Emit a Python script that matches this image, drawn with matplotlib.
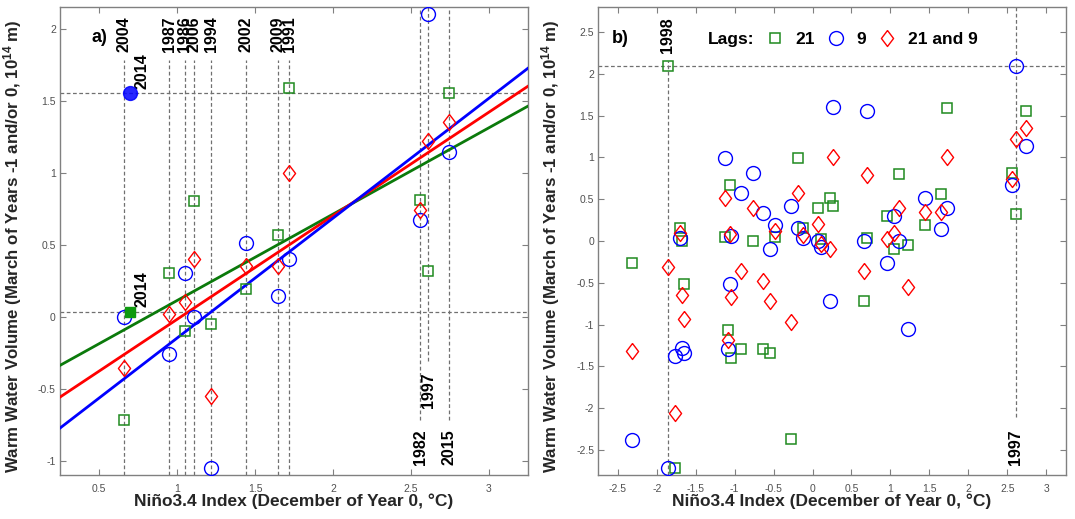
import numpy as np
import matplotlib.pyplot as plt

plt.rcParams['font.family'] = ['Liberation Sans', 'DejaVu Sans']
plt.rcParams['axes.unicode_minus'] = False
plt.rcParams['mathtext.default'] = 'regular'

# El Nino years shown in panel a (2014 is plotted apart and left out of the fits)
years_a = ['2004', '1987', '1986', '2006', '1994', '2002', '2009', '1991', '1982', '1997', '2015']
nino_a = [0.66, 0.95, 1.05, 1.11, 1.22, 1.44, 1.65, 1.72, 2.56, 2.61, 2.745]
wwv21_a = [-0.72, 0.30, -0.10, 0.80, -0.05, 0.19, 0.565, 1.59, 0.81, 0.32, 1.55]
wwv9_a = [0.00, -0.26, 0.30, 0.00, -1.05, 0.51, 0.14, 0.40, 0.67, 2.10, 1.14]
wwv219_a = [-0.36, 0.02, 0.10, 0.40, -0.55, 0.35, 0.35, 1.00, 0.74, 1.22, 1.35]
label_side_a = ['top', 'top', 'top', 'top', 'top', 'top', 'top', 'top', 'bottom', 'mid', 'bottom']

nino_2014 = 0.70
wwv21_2014 = 0.03
wwv9_2014 = 1.55
wwv219_2014 = 0.79

# the remaining years, only in panel b
nino_b = [-2.32, -1.86, -1.76, -1.70, -1.68, -1.65, -1.12, -1.08, -1.05, -1.06, -0.92,
          -0.76, -0.64, -0.55, -0.48, -0.27, -0.19, -0.12, 0.07, 0.11, 0.23, 0.26]
wwv21_b = [-0.26, 2.10, -2.72, 0.15, 0.00, -0.51, 0.05, -1.06, -1.40, 0.67, -1.29,
           0.00, -1.29, -1.34, 0.05, -2.37, 0.99, 0.15, 0.40, 0.02, 0.52, 0.42]
wwv9_b = [-2.38, -2.72, -1.38, 0.04, -1.28, -1.34, 0.99, -1.29, 0.06, -0.51, 0.57,
          0.81, 0.33, -0.09, 0.19, 0.42, 0.15, 0.03, 0.00, -0.07, -0.72, 1.60]
wwv219_b = [-1.32, -0.31, -2.06, 0.10, -0.65, -0.93, 0.52, -1.18, -0.67, 0.08, -0.36,
            0.40, -0.48, -0.72, 0.12, -0.97, 0.57, 0.07, 0.20, -0.04, -0.10, 1.01]

GREEN = '#1f8a1f'
GREEN_LINE = '#0b7a0b'
DIAMOND = [(0, 1), (0.76, 0), (0, -1), (-0.76, 0), (0, 1)]
DASH = dict(color='#707070', linewidth=0.9, linestyle=(0, (3, 2)))
BOLD = dict(fontweight='bold', color='black')

fig = plt.figure(figsize=(10.75, 5.19), dpi=100)
ax1 = fig.add_axes([60 / 1075, 44 / 519, 468 / 1075, 468 / 519])
ax2 = fig.add_axes([598.3 / 1075, 44 / 519, 467.4 / 1075, 468 / 519])


def style_axes(ax, xticks, yticks):
    ax.set_xticks(xticks)
    ax.set_yticks(yticks)
    ax.set_xticklabels(['%g' % t for t in xticks])
    ax.set_yticklabels(['%g' % t for t in yticks])
    ax.tick_params(direction='in', top=True, right=True, length=4, width=0.8,
                   color='#808080', labelcolor='#505050', labelsize=7.5)
    ax.tick_params(axis='x', pad=6.5)
    ax.tick_params(axis='y', pad=3)
    for s in ax.spines.values():
        s.set_color('#808080')
        s.set_linewidth(1.0)
    ax.set_xlabel('Niño3.4 Index (December of Year 0, °C)', fontsize=12.5,
                  fontweight='bold', color='#262626')
    ax.set_ylabel('Warm Water Volume (March of Years -1 and/or 0, 10$^{14}$ m)',
                  fontsize=12.2, fontweight='bold', color='#262626')
    ax.xaxis.set_label_coords(0.5, -0.04)
    ax.yaxis.set_label_coords(-0.077, 0.49)


def scatter3(ax, x, g, b, r):
    ax.plot(x, g, 's', ms=7.5, mfc='none', mec=GREEN, mew=1.1, zorder=4)
    ax.plot(x, b, 'o', ms=10, mfc='none', mec='blue', mew=1.0, zorder=4)
    ax.plot(x, r, marker=DIAMOND, ls='none', ms=11.5, mfc='none', mec='red', mew=1.0, zorder=4)


# ---- panel a ----
ax = ax1
ax.set_xlim(0.25, 3.25)
ax.set_ylim(-1.1, 2.15)
style_axes(ax, [0.5, 1, 1.5, 2, 2.5, 3], [-1, -0.5, 0, 0.5, 1, 1.5, 2])

for x, yr, side in zip(nino_a, years_a, label_side_a):
    if side == 'top':
        ax.vlines(x, -1.1, 1.785, zorder=1, **DASH)
        ax.text(x, 2.085, yr, rotation=90, ha='center', va='top', fontsize=11.5, **BOLD)
    elif side == 'mid':
        ax.vlines(x, -0.31, 2.15, zorder=1, **DASH)
        ax.text(x, -0.385, yr, rotation=90, ha='center', va='top', fontsize=11.5, **BOLD)
    else:
        ax.vlines(x, -0.715, 2.15, zorder=1, **DASH)
        ax.text(x, -0.78, yr, rotation=90, ha='center', va='top', fontsize=11.5, **BOLD)

ax.axhline(wwv9_2014, zorder=1, **DASH)
ax.axhline(wwv21_2014, zorder=1, **DASH)

xs = np.array(ax.get_xlim())
for vals, col in [(wwv21_a, GREEN_LINE), (wwv219_a, 'red'), (wwv9_a, 'blue')]:
    k, c = np.polyfit(nino_a, vals, 1)
    ax.plot(xs, k * xs + c, color=col, lw=2.0, zorder=3)

scatter3(ax, nino_a, wwv21_a, wwv9_a, wwv219_a)
ax.plot(nino_2014, wwv9_2014, 'o', ms=10, color='blue', mec='blue', alpha=0.85, zorder=5)
ax.plot(nino_2014, wwv21_2014, 's', ms=7, color='#0f9a0f', mec='#0f9a0f', zorder=5)
ax.text(nino_2014 + 0.075, wwv9_2014 + 0.03, '2014', rotation=90, ha='center', va='bottom',
        fontsize=11.5, **BOLD)
ax.text(nino_2014 + 0.075, wwv21_2014 + 0.04, '2014', rotation=90, ha='center', va='bottom',
        fontsize=11.5, **BOLD)
ax.text(0.5, 1.94, 'a)', ha='center', va='center', fontsize=13, **BOLD)

# ---- panel b ----
ax = ax2
ax.set_xlim(-2.75, 3.25)
ax.set_ylim(-2.8, 2.8)
style_axes(ax, [-2.5, -2, -1.5, -1, -0.5, 0, 0.5, 1, 1.5, 2, 2.5, 3],
           [-2.5, -2, -1.5, -1, -0.5, 0, 0.5, 1, 1.5, 2, 2.5])

x_all = nino_b + nino_a + [nino_2014]
g_all = wwv21_b + wwv21_a + [wwv21_2014]
b_all = wwv9_b + wwv9_a + [wwv9_2014]
r_all = wwv219_b + wwv219_a + [wwv219_2014]

i98 = 1
i97 = len(nino_b) + years_a.index('1997')
ax.axhline(g_all[i98], zorder=1, **DASH)
ax.vlines(x_all[i98], -2.8, 2.15, zorder=1, **DASH)
ax.text(x_all[i98], 2.68, '1998', rotation=90, ha='center', va='top', fontsize=11.5, **BOLD)
ax.vlines(x_all[i97], -2.11, 2.8, zorder=1, **DASH)
ax.text(x_all[i97], -2.25, '1997', rotation=90, ha='center', va='top', fontsize=11.5, **BOLD)

scatter3(ax, x_all, g_all, b_all, r_all)
ax.text(-2.47, 2.42, 'b)', ha='center', va='center', fontsize=13, **BOLD)

ax.text(0.235, 0.930, 'Lags:', transform=ax.transAxes, ha='left', va='center',
        fontsize=12.5, **BOLD)
h1, = ax.plot([], [], 's', ms=7.5, mfc='none', mec=GREEN, mew=1.1)
h2, = ax.plot([], [], 'o', ms=10, mfc='none', mec='blue', mew=1.0)
h3, = ax.plot([], [], marker=DIAMOND, ls='none', ms=11.5, mfc='none', mec='red', mew=1.0)
leg = ax.legend([h1, h2, h3], ['21', '9', '21 and 9'], ncol=3, frameon=False,
                loc='center left', bbox_to_anchor=(0.359, 0.930), borderaxespad=0,
                borderpad=0, handlelength=1.0, handletextpad=0.7, columnspacing=0.7,
                prop=dict(weight='bold', size=12.5))

fig.savefig('out.png', dpi=100)
